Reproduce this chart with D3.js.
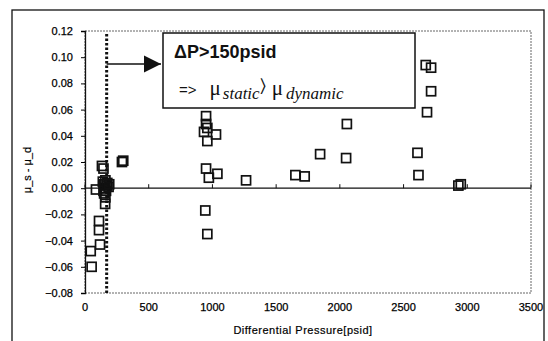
<!DOCTYPE html>
<html>
<head>
<meta charset="utf-8">
<script src="https://cdn.jsdelivr.net/npm/d3@7"></script>
<style>
  body { margin: 0; background: #fff; }
  svg { font-family: "Liberation Sans", Arial, sans-serif; }
</style>
</head>
<body>
<svg id="chart" width="548" height="341"></svg>
<script>
// differential pressure [psid] and mu_s - mu_d
var pressure = [45, 52, 86, 110, 110, 118, 133, 145, 140, 150, 160, 155, 165, 170, 175, 150, 160, 145, 158, 185, 190, 290, 300,
  950, 950, 934, 960, 1028, 960, 950, 1039, 972, 1264, 944, 960,
  1651, 1724, 1845, 2049, 2055,
  2674, 2716, 2716, 2684, 2609, 2617, 2930, 2949];
var muDiff = [-0.048, -0.060, -0.001, -0.025, -0.032, -0.043, 0.017, 0.015, 0.005, 0.003, 0.006, 0.000, -0.002, 0.002, 0.004, -0.004, -0.007, -0.002, -0.012, 0.001, 0.003, 0.020, 0.021,
  0.055, 0.049, 0.043, 0.046, 0.041, 0.036, 0.015, 0.011, 0.008, 0.006, -0.017, -0.035,
  0.010, 0.009, 0.026, 0.023, 0.049,
  0.094, 0.092, 0.074, 0.058, 0.027, 0.010, 0.002, 0.003];

var xTicks = [0, 500, 1000, 1500, 2000, 2500, 3000, 3500];
var yTicks = [-0.08, -0.06, -0.04, -0.02, 0, 0.02, 0.04, 0.06, 0.08, 0.10, 0.12];
var limitPressure = 170;

var svg = d3.select("#chart");
var margin = { top: 31, right: 17, bottom: 48, left: 85 };
var width = 548 - margin.left - margin.right,
  height = 341 - margin.top - margin.bottom;

var x = d3.scaleLinear().domain([0, 3500]).range([margin.left, margin.left + width]);
var y = d3.scaleLinear().domain([-0.08, 0.12]).range([margin.top + height, margin.top]);

// outer frame
svg.append("rect")
  .attr("x", 12).attr("y", 10).attr("width", 532).attr("height", 345)
  .attr("fill", "none").attr("stroke", "#111").attr("stroke-width", 1.3);

// plot area border
svg.append("rect")
  .attr("x", x(0)).attr("y", y(0.12))
  .attr("width", x(3500) - x(0)).attr("height", y(-0.08) - y(0.12))
  .attr("fill", "none").attr("stroke", "#666").attr("stroke-width", 1)
  .attr("stroke-dasharray", "2,1");

// y axis
var yAxis = svg.append("g")
  .attr("transform", "translate(" + x(0) + ",0)")
  .call(d3.axisLeft(y).tickValues(yTicks).tickFormat(d3.format(".2f")).tickSize(4).tickPadding(8));
yAxis.select(".domain").attr("stroke", "#111").attr("stroke-width", 1.3);
yAxis.selectAll("text").attr("font-size", 11).attr("fill", "#000")
  .attr("stroke", "#000").attr("stroke-width", 0.25);

// zero line with x ticks
svg.append("line")
  .attr("x1", x(0)).attr("x2", x(3500)).attr("y1", y(0)).attr("y2", y(0))
  .attr("stroke", "#111").attr("stroke-width", 1.2);
svg.selectAll(".xtick").data(xTicks).enter().append("line")
  .attr("x1", d => x(d)).attr("x2", d => x(d))
  .attr("y1", y(0)).attr("y2", y(0) - 4)
  .attr("stroke", "#111");
svg.selectAll(".xlab").data(xTicks).enter().append("text")
  .attr("x", d => x(d)).attr("y", 311)
  .attr("text-anchor", "middle").attr("font-size", 11).attr("fill", "#000")
  .attr("stroke", "#000").attr("stroke-width", 0.25)
  .text(d => d);

// axis titles
svg.append("text")
  .attr("x", 303).attr("y", 334)
  .attr("text-anchor", "middle").attr("font-size", 11).attr("fill", "#000")
  .attr("stroke", "#000").attr("stroke-width", 0.2)
  .attr("letter-spacing", 0.5)
  .text("Differential Pressure[psid]");
svg.append("text")
  .attr("transform", "translate(31,170) rotate(-90)")
  .attr("text-anchor", "middle").attr("font-size", 11).attr("fill", "#000")
  .attr("stroke", "#000").attr("stroke-width", 0.2)
  .text("\u03bc_s - \u03bc_d");

// dotted limit line
svg.append("line")
  .attr("x1", x(limitPressure)).attr("x2", x(limitPressure))
  .attr("y1", y(0.12) + 3).attr("y2", y(-0.08))
  .attr("stroke", "#111").attr("stroke-width", 3)
  .attr("stroke-dasharray", "2.5,2");

// arrow to annotation
svg.append("defs").append("marker")
  .attr("id", "head").attr("viewBox", "0 0 10 10")
  .attr("refX", 10).attr("refY", 5)
  .attr("markerWidth", 17).attr("markerHeight", 19)
  .attr("markerUnits", "userSpaceOnUse").attr("orient", "auto")
  .append("path").attr("d", "M0,0 L10,5 L0,10 Z").attr("fill", "#111");
svg.append("line")
  .attr("x1", x(limitPressure)).attr("x2", 161)
  .attr("y1", 64).attr("y2", 64)
  .attr("stroke", "#111").attr("stroke-width", 1.5)
  .attr("marker-end", "url(#head)");

// annotation box
svg.append("rect")
  .attr("x", 163).attr("y", 33).attr("width", 252).attr("height", 75)
  .attr("fill", "#fff").attr("stroke", "#111").attr("stroke-width", 1.5);
svg.append("text")
  .attr("x", 174).attr("y", 58)
  .attr("font-size", 18).attr("font-weight", "bold").attr("fill", "#111")
  .text("\u0394P>150psid");

var line2 = svg.append("text")
  .attr("x", 179).attr("y", 95).attr("fill", "#111")
  .attr("font-family", "'Liberation Serif', 'Times New Roman', serif");
line2.append("tspan").attr("font-family", "'Liberation Sans', Arial, sans-serif")
  .attr("font-size", 15).text("=>");
line2.append("tspan").attr("dx", 13).attr("font-size", 21).text("\u03bc");
line2.append("tspan").attr("dx", 2).attr("dy", 4).attr("font-size", 17)
  .attr("font-style", "italic").text("static");
line2.append("tspan").attr("dy", -7).attr("font-size", 18).text("\u232a");
line2.append("tspan").attr("dx", 6).attr("dy", 3).attr("font-size", 21).text("\u03bc");
line2.append("tspan").attr("dx", 3).attr("dy", 4).attr("font-size", 17)
  .attr("font-style", "italic").text("dynamic");

// data points as open squares
var pts = pressure.map((p, i) => ({ p: p, m: muDiff[i] }));
svg.selectAll(".pt").data(pts).enter().append("rect")
  .attr("class", "pt")
  .attr("x", d => x(d.p) - 4.5).attr("y", d => y(d.m) - 4.5)
  .attr("width", 9).attr("height", 9)
  .attr("fill", "none").attr("stroke", "#111").attr("stroke-width", 1.7);
</script>
</body>
</html>
